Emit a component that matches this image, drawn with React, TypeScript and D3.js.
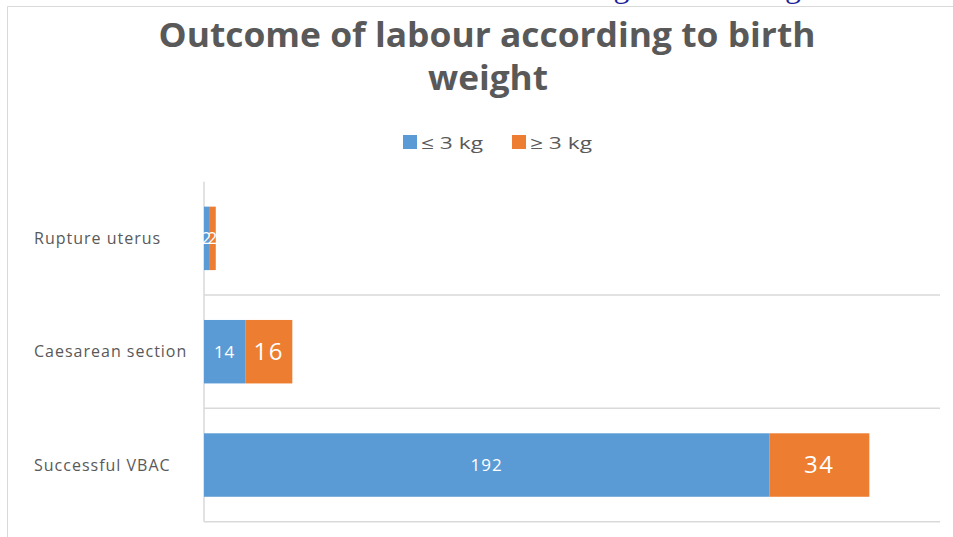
import React from 'react';
import * as d3 from 'd3';

const categories = ['Rupture uterus', 'Caesarean section', 'Successful VBAC'];
const seriesNames = ['≤ 3 kg', '≥ 3 kg'];
const lowWeight = [2, 14, 192];
const highWeight = [2, 16, 34];
const xMax = 250;

const BLUE = '#5b9bd5';
const ORANGE = '#ed7d31';
const TEXT = '#595959';
const GRID = '#d9d9d9';
const FONT = '"Open Sans", "DejaVu Sans", sans-serif';

const W = 953;
const H = 537;

const App: React.FC = () => {
  const x = d3.scaleLinear().domain([0, xMax]).range([204, 940]);
  const y = d3
    .scaleBand<string>()
    .domain(categories)
    .range([181.7, 521.7])
    .paddingInner(0.44)
    .paddingOuter(0.22);

  const rows = categories.map((c, i) => ({
    cat: c,
    low: lowWeight[i],
    high: highWeight[i],
  }));

  const step = y.step();
  const gridYs = categories.map((c) => (y(c) || 0) - y.paddingOuter() * step + step);

  return (
    <svg
      width={W}
      height={H}
      style={{ position: 'absolute', left: 0, top: 0, display: 'block', background: '#fff' }}
    >
      {/* cut-off caption of the page above the chart */}
      <text
        x={826}
        y={-3}
        textAnchor="end"
        fontFamily='"Liberation Serif", serif'
        fontSize={32}
        fill="#1f1f9c"
      >
        according to birth weight
      </text>

      {/* chart frame */}
      <line x1={7.5} x2={W} y1={6.5} y2={6.5} stroke={GRID} />
      <line x1={7.5} x2={7.5} y1={6.5} y2={H} stroke={GRID} />

      {/* title */}
      <text
        x={487}
        y={47}
        textAnchor="middle"
        fontFamily={FONT}
        fontWeight={700}
        fontSize={34}
        fill={TEXT}
        textLength={657}
        lengthAdjust="spacingAndGlyphs"
      >
        Outcome of labour according to birth
      </text>
      <text
        x={488}
        y={90}
        textAnchor="middle"
        fontFamily={FONT}
        fontWeight={700}
        fontSize={34}
        fill={TEXT}
        textLength={120}
        lengthAdjust="spacingAndGlyphs"
      >
        weight
      </text>

      {/* legend */}
      {seriesNames.map((s, i) => {
        const lx = i === 0 ? 403 : 512;
        return (
          <g key={s}>
            <rect x={lx} y={135} width={14} height={14} fill={i === 0 ? BLUE : ORANGE} />
            <text
              x={lx + 18}
              y={149}
              fontFamily={FONT}
              fontSize={17}
              fill={TEXT}
              textLength={62}
              lengthAdjust="spacingAndGlyphs"
            >
              {s}
            </text>
          </g>
        );
      })}

      {/* gridlines */}
      {gridYs.map((gy, i) => (
        <line key={i} x1={204} x2={940} y1={gy} y2={gy} stroke={GRID} strokeWidth={1.5} />
      ))}
      <line x1={204} x2={204} y1={181.7} y2={521.7} stroke={GRID} strokeWidth={1.5} />

      {/* category labels */}
      {rows.map((r) => (
        <text
          key={r.cat}
          x={34}
          y={(y(r.cat) || 0) + y.bandwidth() / 2}
          dy="0.35em"
          fontFamily={FONT}
          fontSize={16}
          letterSpacing={1}
          fill={TEXT}
        >
          {r.cat}
        </text>
      ))}

      {/* bars */}
      {rows.map((r) => {
        const by = y(r.cat) || 0;
        const bh = y.bandwidth();
        const x0 = x(0);
        const x1 = x(r.low);
        const x2 = x(r.low + r.high);
        const cy = by + bh / 2;
        return (
          <g key={r.cat}>
            <rect x={x0} y={by} width={x1 - x0} height={bh} fill={BLUE} />
            <rect x={x1} y={by} width={x2 - x1} height={bh} fill={ORANGE} />
            <text
              x={(x0 + x1) / 2}
              y={cy}
              dy="0.35em"
              textAnchor="middle"
              fontFamily={FONT}
              fontSize={17}
              letterSpacing={1}
              fill="#fff"
            >
              {r.low}
            </text>
            <text
              x={(x1 + x2) / 2}
              y={cy}
              dy="0.35em"
              textAnchor="middle"
              fontFamily={FONT}
              fontSize={r.high > 2 ? 24 : 17}
              letterSpacing={r.high > 2 ? 1.5 : 1}
              fill="#fff"
            >
              {r.high}
            </text>
          </g>
        );
      })}
    </svg>
  );
};

export default App;
